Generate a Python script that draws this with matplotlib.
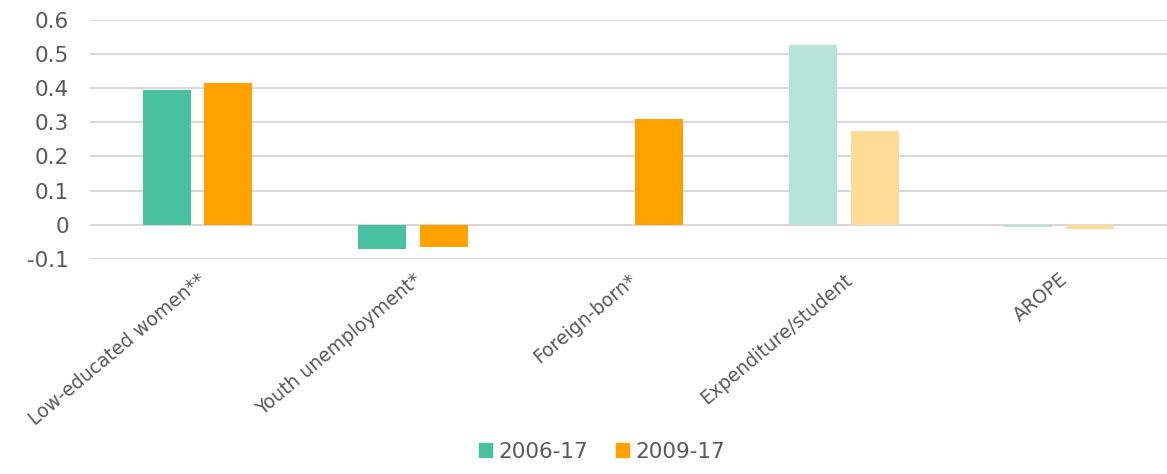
import matplotlib.pyplot as plt
import numpy as np

categories = ['Low-educated women**', 'Youth unemployment*', 'Foreign-born*',
              'Expenditure/student', 'AROPE']
v_2006 = [0.394, -0.071, np.nan, 0.526, -0.008]
v_2009 = [0.416, -0.064, 0.309, 0.274, -0.012]
faded = [False, False, False, True, True]

teal, teal_l = '#47C1A0', '#B7E4D9'
orange, orange_l = '#FFA200', '#FFDB99'
txt = '#595959'

plt.rcParams['font.family'] = ['DejaVu Sans']

fig = plt.figure(figsize=(11.67, 4.74), dpi=100)
ax = fig.add_axes([0.077, 0.454, 0.923, 0.504])

x = np.arange(len(categories))
w = 0.223
c1 = [teal_l if f else teal for f in faded]
c2 = [orange_l if f else orange for f in faded]
ax.bar(x - 0.143, v_2006, w, color=c1, label='2006-17', zorder=3)
ax.bar(x + 0.143, v_2009, w, color=c2, label='2009-17', zorder=3)

ax.set_xlim(-0.5, len(categories) - 0.5)
ax.set_ylim(-0.1, 0.6)
ax.set_yticks(np.arange(-0.1, 0.61, 0.1))
ax.set_yticklabels(['-0.1', '0', '0.1', '0.2', '0.3', '0.4', '0.5', '0.6'])
ax.yaxis.grid(True, color='#D9D9D9', lw=1.5, zorder=0)
for s in ax.spines.values():
    s.set_visible(False)
ax.tick_params(axis='both', length=0, colors=txt)
ax.tick_params(axis='y', pad=15, labelsize=15.5)

ax.set_xticks(x)
ax.set_xticklabels(categories, rotation=40, ha='right', rotation_mode='anchor')
ax.tick_params(axis='x', pad=8, labelsize=13.5)

leg = fig.legend(loc='lower center', bbox_to_anchor=(0.516, -0.015), ncol=2,
                 frameon=False, fontsize=15.5, handlelength=0.6, handleheight=0.6,
                 handletextpad=0.3, columnspacing=1.3)
for t in leg.get_texts():
    t.set_color(txt)
for h, c in zip(leg.legend_handles, [teal, orange]):
    h.set_color(c)

fig.savefig('out.png', dpi=100)
